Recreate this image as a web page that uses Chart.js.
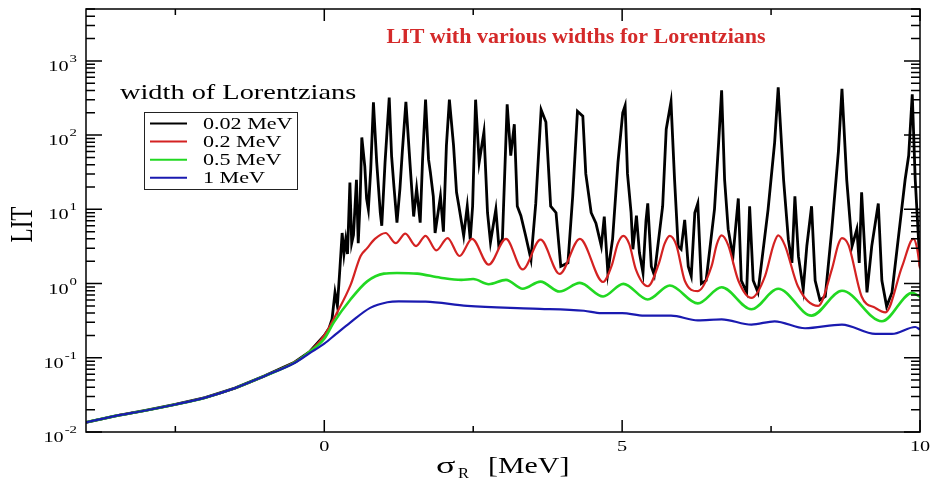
<!DOCTYPE html>
<html>
<head>
<meta charset="utf-8">
<title>LIT with various widths for Lorentzians</title>
<script src="https://cdn.jsdelivr.net/npm/chart.js@4.4.1/dist/chart.umd.min.js"></script>
<style>
  body { margin: 0; background: #fff; }
  #wrap { width: 930px; height: 483px; }
</style>
</head>
<body>
<div id="wrap"><canvas id="litchart" width="930" height="483"></canvas></div>
<script>
/* texts */
var chartTitle = 'LIT with various widths for Lorentzians';
var legendTitle = 'width of Lorentzians';
var seriesLabels = ['0.02 MeV', '0.2 MeV', '0.5 MeV', '1 MeV'];

/* ticks */
var xTickValues = [-2.5, 0, 2.5, 5, 7.5, 10];
var xTickLabels = ['', '0', '', '5', '', '10'];
var yDecades = [-2, -1, 0, 1, 2, 3];
var yMinorSteps = [1, 2, 3, 4, 5, 6, 7, 8, 9];

/* 0.02 MeV (black) */
var blackX = [-4, -3.5, -3, -2.5, -2, -1.5, -1, -0.5, -0.25, 0, 0.08, 0.13, 0.18, 0.22, 0.26, 0.30, 0.33, 0.36, 0.39, 0.43,
  0.46, 0.49, 0.54, 0.57, 0.60, 0.63, 0.68, 0.71, 0.74, 0.78, 0.825, 0.88, 0.94, 0.965, 1.02, 1.09, 1.13, 1.17, 1.22, 1.27,
  1.31, 1.37, 1.44, 1.50, 1.55, 1.61, 1.65, 1.70, 1.75, 1.78, 1.83, 1.86, 1.95, 2.0, 2.05, 2.10, 2.17, 2.22, 2.26, 2.34,
  2.40, 2.45, 2.49, 2.54, 2.60, 2.68, 2.74, 2.79, 2.88, 2.93, 2.99, 3.07, 3.13, 3.19, 3.24, 3.30, 3.38, 3.47, 3.55, 3.64,
  3.72, 3.80, 3.89, 3.97, 4.09, 4.17, 4.25, 4.34, 4.39, 4.48, 4.56, 4.65, 4.70, 4.76, 4.84, 4.93, 5.01, 5.05, 5.09, 5.15,
  5.18, 5.24, 5.29, 5.35, 5.40, 5.43, 5.49, 5.54, 5.68, 5.74, 5.82, 5.88, 5.94, 5.99, 6.05, 6.11, 6.16, 6.22, 6.27, 6.33,
  6.41, 6.55, 6.62, 6.67, 6.72, 6.78, 6.86, 6.95, 7.0, 7.09, 7.14, 7.2, 7.28, 7.45, 7.56, 7.62, 7.71, 7.79, 7.85, 7.90,
  7.96, 8.04, 8.10, 8.18, 8.24, 8.32, 8.41, 8.52, 8.63, 8.69, 8.77, 8.86, 8.94, 8.98, 9.02, 9.11, 9.19, 9.30, 9.36, 9.44,
  9.53, 9.75, 9.81, 9.87, 9.92, 10];
var blackY = [0.0135, 0.0165, 0.0195, 0.0235, 0.029, 0.039, 0.057, 0.087, 0.12, 0.2, 0.25, 0.33, 0.76, 0.5, 1.5, 4.8, 2.5, 3.9, 2.5, 23,
  3.5, 4.5, 25, 3.5, 12, 93, 38, 14, 10, 35, 277, 43, 9, 6, 43, 320, 52, 20, 6.6, 19,
  60, 280, 40, 8, 19, 6.6, 47, 300, 47, 32, 15, 4.8, 15, 5, 72, 300, 72, 17, 11, 4.4,
  11, 3.9, 11, 300, 43, 110, 9, 3.6, 10, 3.2, 4, 260, 53, 140, 11, 8.2, 4.4, 2.1, 12, 220,
  150, 11, 9, 1.7, 1.9, 15, 210, 180, 30, 9, 6.5, 3.2, 8, 1.4, 4, 43, 200, 250, 30, 9,
  2.9, 8.2, 2.6, 1.4, 7, 12, 1.7, 1.3, 11, 120, 280, 25, 3.2, 2.9, 7.2, 1.7, 1.26, 9, 12, 1.0,
  1.1, 10, 80, 400, 25, 5.4, 2.3, 14, 1.1, 0.76, 11, 1.1, 0.76, 10, 80, 440, 25, 3.9, 1.9, 15,
  2.3, 0.83, 3.2, 11, 1.1, 0.6, 0.67, 5.4, 60, 420, 25, 3.2, 5.4, 1.9, 17, 0.76, 3.2, 12, 1.1, 0.49,
  0.76, 25, 53, 355, 25, 1.7];

/* 0.2 MeV (red) */
var redX = [-4, -3.5, -3, -2.5, -2, -1.5, -1, -0.5, -0.25, 0, 0.21, 0.44, 0.61, 0.72, 0.85, 1.03, 1.2, 1.36, 1.54, 1.70,
  1.88, 2.07, 2.27, 2.48, 2.76, 3.05, 3.33, 3.63, 3.95, 4.29, 4.68, 4.82, 4.93, 5.02, 5.12, 5.23, 5.43, 5.62, 5.71, 5.80,
  5.91, 6.05, 6.27, 6.5, 6.59, 6.67, 6.78, 6.95, 7.17, 7.40, 7.54, 7.62, 7.73, 7.95, 8.29, 8.52, 8.63, 8.69, 8.8, 9.02,
  9.25, 9.42, 9.7, 9.89, 9.95, 10];
var redY = [0.0135, 0.0165, 0.0195, 0.0235, 0.029, 0.039, 0.057, 0.087, 0.12, 0.2, 0.40, 0.95, 2.35, 3.0, 4.0, 4.8, 3.5, 4.7, 3.2, 4.4,
  2.8, 4.1, 2.35, 4.0, 1.8, 4.0, 1.55, 3.9, 1.35, 4.0, 1.05, 1.7, 3.5, 4.4, 3.4, 1.55, 0.92, 1.9, 3.4, 4.4,
  3.3, 1.1, 0.79, 1.7, 3.4, 4.45, 3.3, 1.1, 0.64, 1.27, 3.3, 4.45, 3.3, 0.92, 0.50, 1.55, 3.4, 4.1, 3.3, 0.67,
  0.47, 0.41, 1.7, 4.0, 3.0, 1.6];

/* 0.5 MeV (green) */
var greenX = [-4, -3.5, -3, -2.5, -2, -1.5, -1, -0.5, -0.25, 0, 0.16, 0.44, 0.72, 1.0, 1.22, 1.56, 1.95, 2.3, 2.5, 2.76,
  3.05, 3.33, 3.63, 3.95, 4.29, 4.68, 5.02, 5.43, 5.8, 6.27, 6.67, 7.17, 7.62, 8.18, 8.69, 9.36, 9.87, 10];
var greenY = [0.0135, 0.0165, 0.0195, 0.0235, 0.029, 0.039, 0.057, 0.086, 0.12, 0.18, 0.30, 0.61, 1.07, 1.36, 1.39, 1.36, 1.2, 1.12, 1.15, 0.98,
  1.12, 0.85, 1.06, 0.78, 1.02, 0.67, 0.99, 0.61, 0.94, 0.54, 0.89, 0.45, 0.85, 0.37, 0.80, 0.31, 0.75, 0.66];

/* 1 MeV (blue) */
var blueX = [-4, -3.5, -3, -2.5, -2, -1.5, -1, -0.5, -0.25, 0, 0.2, 0.44, 0.77, 1.06, 1.25, 1.7, 2.4, 3.5, 4.36, 4.65,
  5.0, 5.37, 5.82, 6.27, 6.67, 7.17, 7.56, 8.07, 8.69, 9.25, 9.53, 9.92, 10];
var blueY = [0.0135, 0.0165, 0.0195, 0.0235, 0.029, 0.039, 0.057, 0.085, 0.115, 0.155, 0.21, 0.30, 0.47, 0.56, 0.575, 0.57, 0.50, 0.46, 0.43, 0.40,
  0.40, 0.37, 0.37, 0.32, 0.33, 0.28, 0.31, 0.25, 0.28, 0.21, 0.21, 0.26, 0.24];

var seriesColors = ['#000000', '#d42222', '#22d822', '#1a1ab0'];


function pts(xs, ys) {
  return xs.map(function (x, i) { return { x: x, y: ys[i] }; });
}

var yTickValues = [];
yDecades.forEach(function (k) {
  yMinorSteps.forEach(function (m) {
    var v = m * Math.pow(10, k);
    if (v <= 5000) yTickValues.push(v);
  });
});

var serif = '"Liberation Serif", "Times New Roman", serif';
var sx = 1.35;   // the picture is a bit wide

function wideText(ctx, txt, x, y, size, stretch, bold) {
  ctx.save();
  ctx.font = (bold ? 'bold ' : '') + size + 'px ' + serif;
  ctx.textAlign = 'left';
  ctx.textBaseline = 'alphabetic';
  ctx.translate(x, y);
  ctx.scale(stretch, 1);
  ctx.fillText(txt, 0, 0);
  ctx.restore();
}

function textW(ctx, txt, size, stretch) {
  ctx.save();
  ctx.font = size + 'px ' + serif;
  var w = ctx.measureText(txt).width * stretch;
  ctx.restore();
  return w;
}


/* frame, inward ticks, labels, title and legend */
var decor = {
  id: 'decor',
  afterDraw: function (chart) {
    var ctx = chart.ctx;
    var a = chart.chartArea;
    var xs = chart.scales.x;
    var ys = chart.scales.y;

    ctx.save();
    ctx.strokeStyle = '#000';
    ctx.fillStyle = '#000';
    ctx.lineWidth = 1.5;
    ctx.strokeRect(a.left, a.top, a.right - a.left, a.bottom - a.top);

    // x ticks
    xs.ticks.forEach(function (t, i) {
      var px = xs.getPixelForValue(t.value);
      var lab = xTickLabels[xTickValues.indexOf(t.value)] || '';
      var len = lab ? 12 : 6;
      ctx.beginPath();
      ctx.moveTo(px, a.bottom); ctx.lineTo(px, a.bottom - len);
      ctx.moveTo(px, a.top); ctx.lineTo(px, a.top + len);
      ctx.stroke();
      if (lab) {
        var w = textW(ctx, lab, 15, sx);
        wideText(ctx, lab, px - w / 2, a.bottom + 19, 15, sx);
      }
    });

    // y ticks
    ys.ticks.forEach(function (t) {
      var py = ys.getPixelForValue(t.value);
      var lg = Math.log10(t.value);
      var major = Math.abs(lg - Math.round(lg)) < 1e-9;
      var len = major ? 16 : 9;
      ctx.beginPath();
      ctx.moveTo(a.left, py); ctx.lineTo(a.left + len, py);
      ctx.moveTo(a.right, py); ctx.lineTo(a.right - len, py);
      ctx.stroke();
      if (major) {
        var ex = String(Math.round(lg));
        var w1 = textW(ctx, '10', 15, sx);
        var w2 = textW(ctx, ex, 11, sx);
        var x0 = a.left - 9 - w1 - w2 - 1;
        wideText(ctx, '10', x0, py + 10, 15, sx);
        wideText(ctx, ex, x0 + w1 + 1, py + 1, 11, sx);
      }
    });

    // axis titles
    var cx = (a.left + a.right) / 2;
    wideText(ctx, '\u03C3', cx - 67, a.bottom + 41, 24, 1.5);
    wideText(ctx, 'R', cx - 45, a.bottom + 46, 15, 1.1);
    wideText(ctx, '[MeV]', cx - 15, a.bottom + 41, 23, 1.3);

    ctx.save();
    ctx.translate(22, (a.top + a.bottom) / 2 + 4);
    ctx.rotate(-Math.PI / 2);
    ctx.scale(1, 1.35);
    ctx.font = '23px ' + serif;
    ctx.textAlign = 'center';
    ctx.textBaseline = 'alphabetic';
    ctx.fillText('LIT', 0, 7.6);
    ctx.restore();

    // chart title, inside the plot
    ctx.save();
    ctx.fillStyle = '#d42a2a';
    ctx.font = 'bold 22px ' + serif;
    ctx.textAlign = 'center';
    ctx.fillText(chartTitle, a.left + 0.5875 * (a.right - a.left), a.top + 34);
    ctx.restore();

    // legend
    wideText(ctx, legendTitle, a.left + 34, a.top + 90, 21, sx);
    ctx.lineWidth = 1;
    ctx.strokeStyle = '#222';
    ctx.strokeRect(a.left + 58.5, a.top + 103.5, 153, 77);
    chart.data.datasets.forEach(function (ds, i) {
      var ly = a.top + 114.5 + i * 18.1;
      ctx.strokeStyle = ds.borderColor;
      ctx.lineWidth = 2;
      ctx.beginPath();
      ctx.moveTo(a.left + 64, ly); ctx.lineTo(a.left + 101, ly);
      ctx.stroke();
      ctx.fillStyle = '#000';
      wideText(ctx, ds.label, a.left + 117, ly + 5.5, 16, 1.38);
    });
    ctx.restore();
  }
};


var litchart = new Chart(document.getElementById('litchart'), {
  type: 'line',
  data: {
    datasets: [
      { label: seriesLabels[0], data: pts(blackX, blackY), borderColor: seriesColors[0], borderWidth: 2.8, tension: 0, order: 4 },
      { label: seriesLabels[1], data: pts(redX, redY), borderColor: seriesColors[1], borderWidth: 2.2, cubicInterpolationMode: 'monotone', order: 3 },
      { label: seriesLabels[2], data: pts(greenX, greenY), borderColor: seriesColors[2], borderWidth: 2.6, cubicInterpolationMode: 'monotone', order: 2 },
      { label: seriesLabels[3], data: pts(blueX, blueY), borderColor: seriesColors[3], borderWidth: 2.2, cubicInterpolationMode: 'monotone', order: 1 }
    ]
  },
  options: {
    responsive: false,
    animation: false,
    events: [],
    layout: { padding: { left: 86, right: 10, top: 9, bottom: 51 } },
    elements: { point: { radius: 0 }, line: { fill: false } },
    plugins: {
      legend: { display: false },
      title: { display: false },
      tooltip: { enabled: false }
    },
    scales: {
      x: {
        type: 'linear', min: -4, max: 10,
        grid: { display: false, drawTicks: false },
        border: { display: false },
        ticks: { display: false },
        afterBuildTicks: function (s) { s.ticks = xTickValues.map(function (v) { return { value: v }; }); }
      },
      y: {
        type: 'logarithmic', min: 0.01, max: 5000,
        grid: { display: false, drawTicks: false },
        border: { display: false },
        ticks: { display: false },
        afterBuildTicks: function (s) { s.ticks = yTickValues.map(function (v) { return { value: v }; }); }
      }
    }
  },
  plugins: [decor]
});
</script>
</body>
</html>
